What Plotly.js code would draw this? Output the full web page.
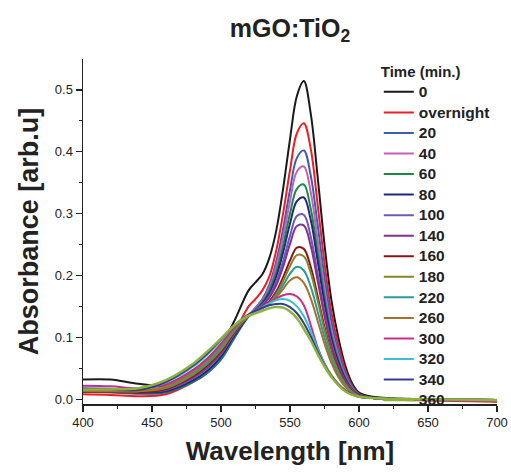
<!DOCTYPE html>
<html>
<head>
<meta charset="utf-8">
<script src="https://cdn.plot.ly/plotly-3.0.1.min.js"></script>
<style>html,body{margin:0;padding:0;background:#fff;}#chart{width:511px;height:473px;}</style>
</head>
<body>
<div id="chart"></div>
<script>
// Wavelength grid (nm)
const wavelength = [400, 420, 440, 460, 480, 490, 500, 510, 520, 525, 530, 535, 540, 545, 550, 555, 560, 565, 570, 575, 580, 585, 590, 595, 600, 610, 620, 650, 700];

// Legend labels (time in minutes)
const timeLabels = ['0', 'overnight', '20', '40', '60', '80', '100', '140', '160', '180', '220', '260', '300', '320', '340', '360'];

// Absorbance series
const abs_0         = [0.032, 0.032, 0.025, 0.022, 0.036, 0.056, 0.086, 0.128, 0.176, 0.189, 0.202, 0.228, 0.272, 0.340, 0.420, 0.490, 0.514, 0.462, 0.360, 0.250, 0.160, 0.100, 0.055, 0.026, 0.011, 0.004, 0.002, 0.000, -0.003];
const abs_overnight = [0.008, 0.007, 0.005, 0.008, 0.028, 0.043, 0.066, 0.108, 0.150, 0.162, 0.176, 0.198, 0.240, 0.300, 0.370, 0.430, 0.446, 0.405, 0.315, 0.220, 0.140, 0.088, 0.048, 0.022, 0.009, 0.002, 0.000, -0.002, -0.004];
const abs_20        = [0.012, 0.011, 0.009, 0.011, 0.028, 0.042, 0.064, 0.100, 0.135, 0.148, 0.162, 0.185, 0.222, 0.275, 0.338, 0.390, 0.402, 0.362, 0.282, 0.197, 0.125, 0.078, 0.043, 0.020, 0.008, 0.002, 0.000, -0.001, -0.002];
const abs_40        = [0.018, 0.017, 0.014, 0.014, 0.030, 0.045, 0.067, 0.103, 0.135, 0.147, 0.160, 0.180, 0.215, 0.262, 0.320, 0.368, 0.376, 0.335, 0.258, 0.178, 0.112, 0.070, 0.038, 0.018, 0.007, 0.002, 0.000, -0.001, -0.002];
const abs_60        = [0.012, 0.012, 0.010, 0.012, 0.029, 0.044, 0.066, 0.102, 0.134, 0.145, 0.157, 0.175, 0.205, 0.248, 0.300, 0.340, 0.347, 0.308, 0.238, 0.164, 0.103, 0.064, 0.035, 0.017, 0.007, 0.002, 0.000, -0.001, -0.001];
const abs_80        = [0.013, 0.013, 0.011, 0.013, 0.031, 0.046, 0.069, 0.104, 0.134, 0.144, 0.155, 0.171, 0.198, 0.237, 0.284, 0.320, 0.326, 0.290, 0.224, 0.155, 0.098, 0.060, 0.033, 0.016, 0.007, 0.002, 0.000, -0.001, -0.001];
const abs_100       = [0.015, 0.015, 0.013, 0.015, 0.034, 0.050, 0.073, 0.107, 0.135, 0.144, 0.153, 0.167, 0.190, 0.223, 0.264, 0.296, 0.298, 0.263, 0.203, 0.141, 0.090, 0.055, 0.030, 0.015, 0.006, 0.002, 0.000, 0.000, -0.001];
const abs_140       = [0.016, 0.016, 0.014, 0.017, 0.036, 0.052, 0.075, 0.108, 0.135, 0.143, 0.151, 0.164, 0.184, 0.214, 0.251, 0.280, 0.281, 0.248, 0.192, 0.134, 0.086, 0.053, 0.029, 0.014, 0.006, 0.002, 0.000, 0.000, -0.001];
const abs_160       = [0.012, 0.012, 0.011, 0.016, 0.038, 0.055, 0.078, 0.110, 0.134, 0.141, 0.148, 0.158, 0.174, 0.197, 0.224, 0.245, 0.243, 0.214, 0.167, 0.117, 0.076, 0.047, 0.026, 0.013, 0.005, 0.002, 0.000, 0.000, -0.001];
const abs_180       = [0.014, 0.014, 0.013, 0.018, 0.040, 0.057, 0.080, 0.111, 0.134, 0.141, 0.147, 0.156, 0.170, 0.191, 0.215, 0.233, 0.231, 0.204, 0.160, 0.112, 0.073, 0.045, 0.025, 0.012, 0.005, 0.002, 0.000, 0.000, -0.001];
const abs_220       = [0.015, 0.015, 0.014, 0.020, 0.043, 0.060, 0.084, 0.114, 0.135, 0.141, 0.147, 0.155, 0.167, 0.184, 0.203, 0.214, 0.208, 0.182, 0.142, 0.100, 0.065, 0.040, 0.022, 0.011, 0.005, 0.002, 0.000, 0.000, -0.001];
const abs_260       = [0.013, 0.013, 0.013, 0.021, 0.045, 0.063, 0.087, 0.116, 0.136, 0.142, 0.148, 0.155, 0.165, 0.178, 0.192, 0.197, 0.188, 0.163, 0.127, 0.090, 0.059, 0.036, 0.020, 0.010, 0.004, 0.002, 0.000, 0.000, -0.001];
const abs_300       = [0.022, 0.021, 0.018, 0.024, 0.048, 0.066, 0.090, 0.117, 0.137, 0.143, 0.149, 0.156, 0.163, 0.168, 0.170, 0.166, 0.152, 0.120, 0.084, 0.058, 0.039, 0.025, 0.015, 0.008, 0.004, 0.002, 0.001, 0.000, -0.001];
const abs_320       = [0.018, 0.017, 0.016, 0.027, 0.053, 0.072, 0.095, 0.120, 0.137, 0.143, 0.149, 0.155, 0.160, 0.162, 0.159, 0.150, 0.134, 0.110, 0.081, 0.057, 0.038, 0.024, 0.014, 0.008, 0.004, 0.002, 0.001, 0.000, -0.001];
const abs_340       = [0.017, 0.016, 0.015, 0.028, 0.055, 0.074, 0.097, 0.120, 0.137, 0.143, 0.148, 0.152, 0.154, 0.154, 0.149, 0.139, 0.123, 0.102, 0.077, 0.055, 0.037, 0.024, 0.014, 0.008, 0.004, 0.002, 0.001, 0.000, -0.001];
const abs_360       = [0.016, 0.016, 0.018, 0.031, 0.058, 0.077, 0.098, 0.120, 0.135, 0.139, 0.143, 0.147, 0.149, 0.148, 0.142, 0.131, 0.114, 0.095, 0.073, 0.053, 0.036, 0.023, 0.013, 0.007, 0.004, 0.002, 0.001, 0.000, -0.001];

const series = [abs_0, abs_overnight, abs_20, abs_40, abs_60, abs_80, abs_100, abs_140, abs_160, abs_180, abs_220, abs_260, abs_300, abs_320, abs_340, abs_360];
const colors = ['#1a1a1a', '#ee1c24', '#3b5cb0', '#c45fba', '#178a48', '#1f2878', '#7057b8', '#842f8e', '#8a1518', '#878528', '#249c9e', '#a7702b', '#c82d87', '#36c1cd', '#323b96', '#8db33a'];

const FONT = '"Liberation Sans", Arial, Helvetica, sans-serif';
const LEG_SPAN = '<span style="font-size:15.5px">';

const traces = series.map((ys, i) => ({
  type: 'scatter',
  mode: 'lines',
  x: wavelength,
  y: ys,
  name: LEG_SPAN + timeLabels[i] + '</span>',
  line: {color: colors[i], width: i === 15 ? 2.5 : 2, shape: 'spline', smoothing: 1}
}));

const axisCommon = {
  showgrid: false, zeroline: false, showline: true,
  linecolor: '#222', linewidth: 1.5, tickcolor: '#222', tickwidth: 1.5
};

const layout = {
  width: 511, height: 473,
  margin: {l: 83, r: 14, t: 59, b: 69},
  paper_bgcolor: '#fff', plot_bgcolor: '#fff',
  font: {family: FONT, color: '#222', size: 13},
  title: {
    text: 'mGO:TiO<sub>2</sub>',
    font: {family: FONT, size: 25, weight: 'bold', color: '#222'},
    x: 0.5, xref: 'paper', y: 0.94, yref: 'container', yanchor: 'middle'
  },
  showlegend: true,
  legend: {
    x: 0.7145, xanchor: 'left', y: 1.0, yanchor: 'top',
    bgcolor: 'rgba(0,0,0,0)', borderwidth: 0,
    font: {family: FONT, size: 13.5, weight: 'bold', color: '#222'},
    title: {text: '<span style="font-size:15px">Time (min.)</span>', font: {family: FONT, size: 13.5, weight: 'bold', color: '#222'}},
    tracegroupgap: 0
  },
  xaxis: Object.assign({}, axisCommon, {
    range: [400, 700], tick0: 400, dtick: 50,
    ticks: 'outside', ticklen: 6,
    minor: {dtick: 25, tick0: 400, ticks: 'outside', ticklen: 3, tickwidth: 1.5, tickcolor: '#222'},
    tickfont: {family: FONT, size: 13, color: '#222'},
    title: {text: 'Wavelength [nm]', font: {family: FONT, size: 26, weight: 'bold', color: '#222'}, standoff: 12},
    automargin: false
  }),
  xaxis2: Object.assign({}, axisCommon, {
    overlaying: 'x', side: 'top', anchor: 'y',
    range: [400, 700], tick0: 400, dtick: 25,
    ticks: 'inside', ticklen: 5, showticklabels: false
  }),
  yaxis: Object.assign({}, axisCommon, {
    range: [-0.0076, 0.5497], tick0: 0, dtick: 0.1, tickformat: '.1f',
    ticks: 'outside', ticklen: 6,
    minor: {dtick: 0.05, tick0: 0, ticks: 'outside', ticklen: 3, tickwidth: 1.5, tickcolor: '#222'},
    tickfont: {family: FONT, size: 13, color: '#222'},
    title: {text: 'Absorbance [arb.u]', font: {family: FONT, size: 27, weight: 'bold', color: '#222'}, standoff: 8},
    automargin: false
  }),
  yaxis2: Object.assign({}, axisCommon, {
    overlaying: 'y', side: 'right', anchor: 'x',
    range: [-0.0076, 0.5497], tick0: 0, dtick: 0.1,
    ticks: 'inside', ticklen: 6, showticklabels: false,
    minor: {dtick: 0.05, tick0: 0, ticks: 'inside', ticklen: 3, tickwidth: 1.5, tickcolor: '#222'}
  })
};

Plotly.newPlot('chart', traces, layout, {displayModeBar: false, staticPlot: true});
</script>
</body>
</html>
